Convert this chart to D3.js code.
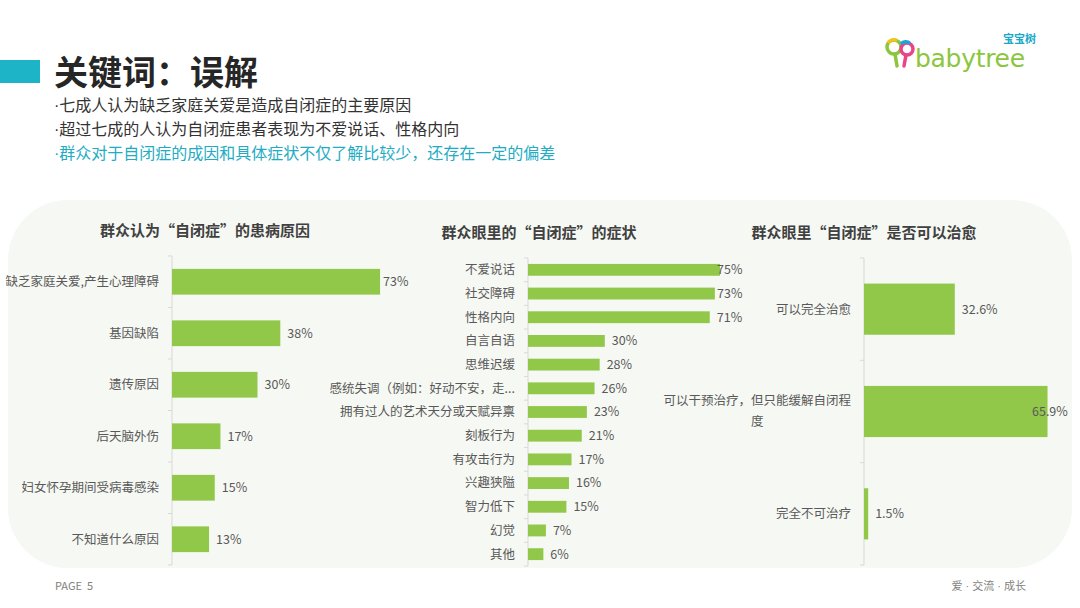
<!DOCTYPE html>
<html>
<head>
<meta charset="utf-8">
<script src="https://cdn.jsdelivr.net/npm/d3@7"></script>
<style>
  html, body { margin: 0; padding: 0; background: #fff; }
  svg { display: block; font-family: "Noto Sans CJK SC", "Noto Sans", sans-serif; }
</style>
</head>
<body>
<div id="chart"></div>
<script>
// Chart 1: causes
const causeLabels = ['缺乏家庭关爱,产生心理障碍', '基因缺陷', '遗传原因', '后天脑外伤', '妇女怀孕期间受病毒感染', '不知道什么原因'];
const causeValues = [73, 38, 30, 17, 15, 13];

// Chart 2: symptoms
const symptomLabels = ['不爱说话', '社交障碍', '性格内向', '自言自语', '思维迟缓', '感统失调（例如：好动不安，走...',
  '拥有过人的艺术天分或天赋异禀', '刻板行为', '有攻击行为', '兴趣狭隘', '智力低下', '幻觉', '其他'];
const symptomValues = [75, 73, 71, 30, 28, 26, 23, 21, 17, 16, 15, 7, 6];

// Chart 3: can it be cured
const cureLabels = ['可以完全治愈', '可以干预治疗，但只能缓解自闭程度', '完全不可治疗'];
const cureValues = [32.6, 65.9, 1.5];

const bulletLines = [
  '七成人认为缺乏家庭关爱是造成自闭症的主要原因',
  '超过七成的人认为自闭症患者表现为不爱说话、性格内向',
  '群众对于自闭症的成因和具体症状不仅了解比较少，还存在一定的偏差'
];

const width = 1080;
const height = 608;
const green = '#92c84a';
const textGray = '#595959';
const latin = '"Liberation Sans", "DejaVu Sans", sans-serif';

const svg = d3.select('#chart')
  .append('svg')
  .attr('width', width)
  .attr('height', height);

// Heading block
svg.append('rect')
  .attr('x', 0).attr('y', 60).attr('width', 40).attr('height', 23)
  .attr('fill', '#1db4c8');

svg.append('text')
  .attr('x', 54).attr('y', 85)
  .attr('font-size', 34).attr('font-weight', 'bold')
  .attr('fill', '#262626')
  .text('关键词：误解');

// Bullet lines; the dot is set in a Latin font so it stays narrow
const bullets = svg.selectAll('.bullet')
  .data(bulletLines)
  .enter()
  .append('text')
  .attr('class', 'bullet')
  .attr('x', 54)
  .attr('y', (d, i) => 111 + i * 24)
  .attr('font-size', 16)
  .attr('fill', (d, i) => i === 2 ? '#22acc4' : '#333');
bullets.append('tspan').attr('font-family', latin).text('·');
bullets.append('tspan').text(d => d);

// Logo (rough drawing)
const logo = svg.append('g').attr('transform', 'translate(885, 38)');
logo.append('circle').attr('cx', 9).attr('cy', 9).attr('r', 7)
  .attr('fill', 'none').attr('stroke', '#8cc63e').attr('stroke-width', 3.5);
logo.append('path').attr('d', 'M3,5 A7,7 0 0,1 12,2.5')
  .attr('fill', 'none').attr('stroke', '#f6c21c').attr('stroke-width', 3.5);
logo.append('circle').attr('cx', 22).attr('cy', 11).attr('r', 6)
  .attr('fill', 'none').attr('stroke', '#e8458b').attr('stroke-width', 3.5);
logo.append('path').attr('d', 'M16,6 A6,6 0 0,1 25,5.5')
  .attr('fill', 'none').attr('stroke', '#1aa7d8').attr('stroke-width', 3.5);
logo.append('line').attr('x1', 10).attr('y1', 16).attr('x2', 12).attr('y2', 28)
  .attr('stroke', '#8cc63e').attr('stroke-width', 3.5).attr('stroke-linecap', 'round');
logo.append('line').attr('x1', 21).attr('y1', 17).attr('x2', 19).attr('y2', 28)
  .attr('stroke', '#e8458b').attr('stroke-width', 3.5).attr('stroke-linecap', 'round');
svg.append('text')
  .attr('x', 915).attr('y', 67)
  .attr('font-family', '"DejaVu Sans", sans-serif')
  .attr('font-size', 25).attr('fill', '#8cc63e')
  .attr('letter-spacing', -0.3)
  .text('babytree');
svg.append('text')
  .attr('x', 1036).attr('y', 43).attr('text-anchor', 'end')
  .attr('font-size', 11).attr('font-weight', 'bold').attr('fill', '#1aa7c8')
  .text('宝宝树');

// Background panel
svg.append('rect')
  .attr('x', 8).attr('y', 200)
  .attr('width', 1064).attr('height', 368)
  .attr('rx', 60)
  .attr('fill', '#f6f8f3');

// Draw one horizontal bar chart
function drawBarChart(cfg) {
  const g = svg.append('g');

  const y = d3.scaleBand()
    .domain(cfg.labels)
    .range([cfg.top, cfg.bottom])
    .paddingInner(0.5)
    .paddingOuter(0.25);

  const x = d3.scaleLinear()
    .domain([0, 100])
    .range([cfg.axisX, cfg.axisX + cfg.pxPer100]);

  g.append('text')
    .attr('x', cfg.titleX).attr('y', cfg.titleY)
    .attr('text-anchor', 'middle')
    .attr('font-size', 15).attr('font-weight', 'bold')
    .attr('fill', '#404040')
    .text(cfg.title);

  // Axis line and ticks at the band boundaries
  g.append('line')
    .attr('x1', cfg.axisX).attr('x2', cfg.axisX)
    .attr('y1', cfg.top).attr('y2', cfg.bottom)
    .attr('stroke', '#d9d9d9');

  const boundaries = d3.range(cfg.labels.length + 1).map(i => cfg.top + i * y.step());
  g.selectAll('.tick')
    .data(boundaries)
    .enter()
    .append('line')
    .attr('x1', cfg.axisX - 4).attr('x2', cfg.axisX)
    .attr('y1', d => d).attr('y2', d => d)
    .attr('stroke', '#d9d9d9');

  const rows = cfg.labels.map((label, i) => ({ label, value: cfg.values[i] }));

  g.selectAll('.bar')
    .data(rows)
    .enter()
    .append('rect')
    .attr('x', x(0))
    .attr('y', d => y(d.label))
    .attr('width', d => x(d.value) - x(0))
    .attr('height', y.bandwidth())
    .attr('fill', green);

  g.selectAll('.value')
    .data(rows)
    .enter()
    .append('text')
    .attr('x', d => Math.min(x(d.value) + 7, cfg.valueMaxX))
    .attr('y', d => y(d.label) + y.bandwidth() / 2)
    .attr('dy', '0.35em')
    .attr('font-size', 12.5)
    .attr('fill', textGray)
    .text(d => cfg.format(d.value));

  // Category labels, wrapped when wider than cfg.wrapWidth
  const labelRight = cfg.axisX - 13;
  rows.forEach(d => {
    const t = g.append('text')
      .attr('font-size', 12.5)
      .attr('fill', textGray);
    const cy = y(d.label) + y.bandwidth() / 2;
    t.text(d.label);
    if (!cfg.wrapWidth || t.node().getComputedTextLength() <= cfg.wrapWidth) {
      t.attr('x', labelRight).attr('y', cy).attr('dy', '0.35em')
        .attr('text-anchor', 'end');
      return;
    }
    // split by characters
    const chars = Array.from(d.label);
    const lines = [];
    let line = '';
    t.text('');
    chars.forEach(c => {
      t.text(line + c);
      if (t.node().getComputedTextLength() > cfg.wrapWidth && line) {
        lines.push(line);
        line = c;
      } else {
        line += c;
      }
    });
    if (line) lines.push(line);
    t.text(lines[0]);
    const w = t.node().getComputedTextLength();
    t.text('');
    const lh = 21;
    const startY = cy - (lines.length - 1) * lh / 2;
    lines.forEach((l, i) => {
      t.append('tspan')
        .attr('x', labelRight - w / 2)
        .attr('y', startY + i * lh)
        .attr('dy', '0.35em')
        .attr('text-anchor', 'middle')
        .text(l);
    });
  });
}

drawBarChart({
  title: '群众认为“自闭症”的患病原因',
  titleX: 205, titleY: 236,
  labels: causeLabels, values: causeValues,
  axisX: 172, top: 256, bottom: 565, pxPer100: 285,
  valueMaxX: 383,
  format: v => v + '%'
});

drawBarChart({
  title: '群众眼里的“自闭症”的症状',
  titleX: 539, titleY: 238,
  labels: symptomLabels, values: symptomValues,
  axisX: 528, top: 258, bottom: 566, pxPer100: 256,
  valueMaxX: 717,
  format: v => v + '%'
});

drawBarChart({
  title: '群众眼里“自闭症”是否可以治愈',
  titleX: 864, titleY: 238,
  labels: cureLabels, values: cureValues,
  axisX: 864, top: 258, bottom: 565, pxPer100: 278.5,
  valueMaxX: 1032,
  wrapWidth: 190,
  format: v => v.toFixed(1) + '%'
});

// Footer
svg.append('text')
  .attr('x', 55).attr('y', 590)
  .attr('font-size', 11).attr('fill', '#7f7f7f')
  .attr('xml:space', 'preserve')
  .style('white-space', 'pre')
  .text('PAGE  5');
const footer = svg.append('text')
  .attr('x', 1026).attr('y', 590)
  .attr('text-anchor', 'end')
  .attr('font-size', 11).attr('fill', '#7f7f7f');
['爱', ' · ', '交流', ' · ', '成长'].forEach(s => {
  footer.append('tspan')
    .attr('font-family', s.includes('·') ? latin : null)
    .style('white-space', 'pre')
    .text(s);
});
</script>
</body>
</html>
